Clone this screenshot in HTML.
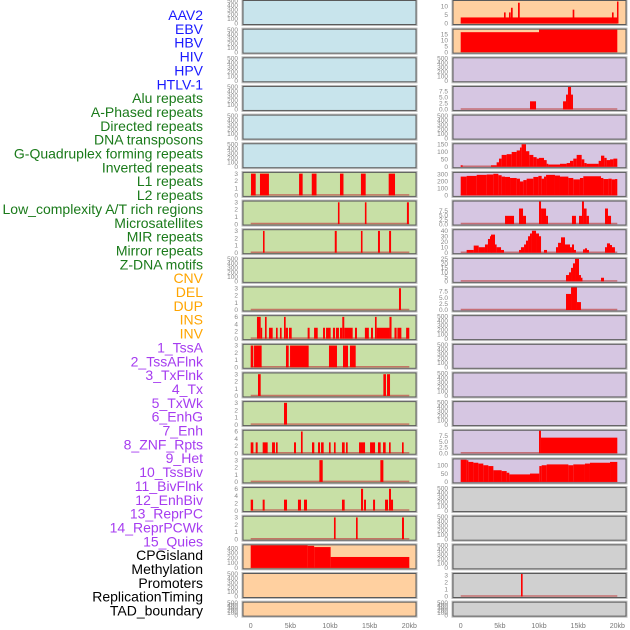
<!DOCTYPE html>
<html><head><meta charset="utf-8"><style>
html,body{margin:0;padding:0;background:#fff;}
svg{display:block;font-family:"Liberation Sans",sans-serif;}
</style></head><body>
<svg id="chart" width="630" height="630" viewBox="0 0 630 630" xmlns="http://www.w3.org/2000/svg"></svg>
<script>
const trackLabels=["AAV2","EBV","HBV","HIV","HPV","HTLV-1","Alu repeats","A-Phased repeats","Directed repeats","DNA transposons","G-Quadruplex forming repeats","Inverted repeats","L1 repeats","L2 repeats","Low_complexity A/T rich regions","Microsatellites","MIR repeats","Mirror repeats","Z-DNA motifs","CNV","DEL","DUP","INS","INV","1_TssA","2_TssAFlnk","3_TxFlnk","4_Tx","5_TxWk","6_EnhG","7_Enh","8_ZNF_Rpts","9_Het","10_TssBiv","11_BivFlnk","12_EnhBiv","13_ReprPC","14_ReprPCWk","15_Quies","CPGisland","Methylation","Promoters","ReplicationTiming","TAD_boundary"];
const labelGroups=[6,13,5,15,5];
const groupColors=["#1a1aff","#1a7a1a","#ffa500","#a63cf0","#000000"];
const xTickKb=[0,5,10,15,20];
const xTickText=["0","5kb","10kb","15kb","20kb"];
const emptyTicks=[0,100,200,300,400,500];
const t3=[0,1,2,3], t6=[0,2,4,6], t75=[0,2.5,5,7.5];
// left column data: [startKb,endKb,value]
const L6=[[0.04,0.63,3],[1.17,2.3,3],[6.1,6.55,3],[7.7,8.3,3],[11.26,11.7,3],[13.9,14.5,3],[17.4,18.2,3]];
const L7=[[11.0,11.2,3],[14.4,14.6,3],[19.7,19.95,3]];
const L8=[[1.55,1.75,3],[10.6,10.85,3],[13.9,14.1,3],[16.05,16.3,3],[17.45,17.7,3]];
const L10=[[18.7,18.95,3]];
const L11=[[0.79,1.26,6],[1.26,1.38,3],[1.8,2.01,6],[2.31,2.77,3],[3.19,3.4,3],[3.69,3.9,3],[4.2,4.41,6],[4.41,4.7,3],[4.83,5.17,3],[7.18,7.43,3],[7.99,8.45,3],[9.12,9.37,3],[9.5,10.08,3],[10.37,10.63,3],[10.75,11.13,3],[11.26,11.55,3],[11.55,11.8,6],[11.8,12.86,3],[13.15,13.4,3],[14.4,14.9,3],[15.17,15.42,3],[15.67,15.88,6],[15.88,17.5,3],[17.5,17.76,6],[18.13,18.4,3],[18.5,19.0,3],[19.6,20.0,3]];
const L12=[[0,0.33,3],[0.42,1.38,3],[4.45,4.79,3],[4.96,7.31,3],[9.87,10.88,3],[11.64,12.27,3],[12.52,13.24,3]];
const L13=[[0.92,1.26,3],[16.73,17.06,3],[17.19,17.57,3]];
const L14=[[4.2,4.58,3]];
const L15=[[0,0.34,3],[0.63,0.88,3],[1.51,2.14,3],[2.69,3.06,3],[3.19,3.4,3],[5.46,5.71,3],[6.34,6.55,6],[7.73,8.02,3],[8.49,8.74,3],[8.87,9.2,3],[9.87,10.08,3],[10.5,10.71,3],[11.51,11.85,3],[12.02,12.23,3],[13.66,14.42,3],[15.05,15.68,3],[16.05,16.39,3],[16.69,17.02,3],[17.44,17.65,3],[19.08,19.29,3]];
const L16=[[8.66,9.08,3],[16.35,16.73,3]];
const L17=[[0,0.3,3],[1.51,1.76,3],[4.2,4.58,3],[5.96,6.34,3],[6.72,7.1,3],[11.51,11.85,3],[13.91,14.17,6],[14.29,14.54,3],[15.43,15.68,3],[16.94,17.32,3],[17.44,17.69,6],[17.69,17.95,3]];
const L18=[[10.5,10.71,3],[13.28,13.49,3],[19.08,19.33,3]];
const L19=[[0,7.18,470],[7.18,8.0,445],[8.0,10.08,420],[10.08,20,220]];
// right column data
const R0=[[0,20,3.5],[5.53,5.74,6.4],[6.17,6.38,6.4],[6.42,6.64,9.1],[7.32,7.54,12],[14.3,14.51,8],[19.32,19.53,6.4],[19.96,20,12.7]];
const R1=[[0,10,16.6],[10,20,19]];
const R3=[[8.85,9.62,3.4],[13.07,13.45,3.4],[13.45,13.7,6.2],[13.7,14.09,9.4],[14.09,14.34,6.2]];
const R5=[[0,0.25,10],[3.87,4.59,10],[4.59,4.89,30],[4.89,5.23,55],[5.23,5.87,80],[5.87,6.51,85],[6.51,7.15,100],[7.15,7.57,110],[7.57,7.78,130],[7.78,8.34,152],[8.34,8.76,105],[8.76,9.28,80],[9.28,9.7,65],[9.7,10.0,55],[10.0,10.64,60],[10.64,10.98,45],[10.98,11.19,20],[11.19,12.68,15],[12.68,13.53,20],[13.53,13.96,25],[13.96,14.38,40],[14.38,14.81,55],[14.81,15.45,80],[15.45,15.79,50],[15.79,16.08,25],[16.08,17.62,20],[17.62,17.92,40],[17.92,18.34,75],[18.34,18.64,60],[18.64,19.07,45],[19.07,19.5,50],[19.5,20,55]];
const R6=[[0,0.76,270],[0.76,2.04,280],[2.04,3.32,295],[3.32,4.17,300],[4.17,4.81,310],[4.81,5.23,290],[5.23,5.66,270],[5.66,6.3,265],[6.3,7.15,250],[7.15,7.57,240],[7.57,8.0,200],[8.0,8.42,220],[8.42,9.28,240],[9.28,9.92,265],[9.92,10.34,280],[10.34,10.64,240],[10.64,10.9,270],[10.9,12.04,295],[12.04,12.68,285],[12.68,13.75,270],[13.75,14.38,250],[14.38,15.23,230],[15.23,15.66,250],[15.66,17.92,275],[17.92,18.22,250],[18.22,18.86,235],[18.86,19.28,240],[19.28,19.71,230],[19.71,20,235]];
const R7=[[5.66,6.81,4.6],[7.45,7.96,8.7],[7.96,8.34,4.6],[10.0,10.26,12.7],[10.26,10.9,8.7],[10.9,11.15,4.6],[14.21,14.72,4.6],[15.11,15.49,4.6],[15.49,15.74,12.7],[15.74,16.08,8.7],[16.08,16.38,4.6],[18.43,18.81,8.7],[18.81,19.2,4.6]];
const R8=[[0.76,1.66,5],[1.66,2.3,13],[2.3,3.1,10],[3.1,3.48,15],[3.48,3.74,25],[3.74,3.87,30],[3.87,4.38,33],[4.38,4.59,15],[4.59,5.15,10],[5.15,5.53,5],[7.45,7.7,5],[7.7,8.09,10],[8.09,8.34,15],[8.34,8.6,22],[8.6,8.85,30],[8.85,9.1,35],[9.1,9.62,40],[9.62,10.0,35],[10.0,10.26,30],[10.64,11.02,5],[12.17,12.43,10],[12.43,12.81,18],[12.81,13.32,28],[13.32,13.96,15],[13.96,14.21,10],[14.21,14.47,15],[14.47,14.72,5],[15.62,15.87,6],[15.87,16.13,8],[16.13,16.38,5],[18.43,18.68,10],[18.68,19.07,17],[19.07,19.32,14],[19.32,19.7,10]];
const R9=[[13.45,13.83,7],[13.83,14.09,10],[14.09,14.34,15],[14.34,14.6,20],[14.6,15.11,25],[15.11,15.36,7],[15.36,15.49,4],[17.92,18.3,4]];
const R10=[[13.45,14.09,6.5],[14.09,14.85,9.1],[14.85,15.36,3.2]];
const R15=[[10.0,10.25,9.8],[10.25,20,6.8]];
const R16=[[0,0.76,133],[0.76,0.98,130],[0.98,1.62,120],[1.62,2.25,115],[2.25,2.89,110],[2.89,3.53,100],[3.53,4.17,95],[4.17,5.23,70],[5.23,5.87,65],[5.87,6.21,55],[6.21,8.85,45],[8.85,10.04,50],[10.04,10.34,95],[10.34,10.98,100],[10.98,13.75,105],[13.75,14.38,100],[14.38,15.87,105],[15.87,16.51,110],[16.51,19.07,115],[19.07,20,120]];
const R20=[[7.7,7.91,3.3]];

const BLUE="#c8e4ec",GREEN="#c8e0a6",ORANGE="#ffd0a0",PURPLE="#d6c6e2",GRAY="#d0d0d0";
const leftPanels=[];
for(let i=0;i<6;i++)leftPanels.push({bg:BLUE,data:null,ticks:emptyTicks,ymax:500});
leftPanels.push({bg:GREEN,data:L6,ticks:t3,ymax:3.1});
leftPanels.push({bg:GREEN,data:L7,ticks:t3,ymax:3.1});
leftPanels.push({bg:GREEN,data:L8,ticks:t3,ymax:3.1});
leftPanels.push({bg:GREEN,data:null,ticks:emptyTicks,ymax:500});
leftPanels.push({bg:GREEN,data:L10,ticks:t3,ymax:3.1});
leftPanels.push({bg:GREEN,data:L11,ticks:t6,ymax:6.2});
leftPanels.push({bg:GREEN,data:L12,ticks:t3,ymax:3.1});
leftPanels.push({bg:GREEN,data:L13,ticks:t3,ymax:3.1});
leftPanels.push({bg:GREEN,data:L14,ticks:t3,ymax:3.1});
leftPanels.push({bg:GREEN,data:L15,ticks:t6,ymax:6.2});
leftPanels.push({bg:GREEN,data:L16,ticks:t3,ymax:3.1});
leftPanels.push({bg:GREEN,data:L17,ticks:t6,ymax:6.2});
leftPanels.push({bg:GREEN,data:L18,ticks:t3,ymax:3.1});
leftPanels.push({bg:ORANGE,data:L19,ticks:[0,100,200,300,400],ymax:455});
leftPanels.push({bg:ORANGE,data:null,ticks:emptyTicks,ymax:500});
leftPanels.push({bg:ORANGE,data:null,ticks:emptyTicks,ymax:500});
const rightPanels=[
 {bg:ORANGE,data:R0,ticks:[0,5,10],ymax:13},
 {bg:ORANGE,data:R1,ticks:[0,5,10,15],ymax:18.7},
 {bg:PURPLE,data:null,ticks:emptyTicks,ymax:500},
 {bg:PURPLE,data:R3,ticks:t75,ymax:9.4},
 {bg:PURPLE,data:null,ticks:emptyTicks,ymax:500},
 {bg:PURPLE,data:R5,ticks:[0,50,100,150],ymax:152},
 {bg:PURPLE,data:R6,ticks:[0,100,200,300],ymax:323},
 {bg:PURPLE,data:R7,ticks:t75,ymax:12.6},
 {bg:PURPLE,data:R8,ticks:[0,10,20,30,40],ymax:41},
 {bg:PURPLE,data:R9,ticks:[0,5,10,15,20,25],ymax:25},
 {bg:PURPLE,data:R10,ticks:t75,ymax:9.1}];
for(let i=11;i<15;i++)rightPanels.push({bg:PURPLE,data:null,ticks:emptyTicks,ymax:500});
rightPanels.push({bg:PURPLE,data:R15,ticks:t75,ymax:9.8});
rightPanels.push({bg:PURPLE,data:R16,ticks:[0,50,100],ymax:135});
for(let i=17;i<20;i++)rightPanels.push({bg:GRAY,data:null,ticks:emptyTicks,ymax:500});
rightPanels.push({bg:GRAY,data:R20,ticks:t3,ymax:3.2});
rightPanels.push({bg:GRAY,data:null,ticks:emptyTicks,ymax:500});

const NS="http://www.w3.org/2000/svg";
const svg=document.getElementById('chart');
function mk(tag,attrs,parent){const e=document.createElementNS(NS,tag);for(const k in attrs)e.setAttribute(k,attrs[k]);(parent||svg).appendChild(e);return e;}

// labels
let li=0;
const lg=mk('g',{});


labelGroups.forEach((n,g)=>{for(let j=0;j<n;j++){const t=mk('text',{x:203,y:15+li*13.85+5,'text-anchor':'end','font-size':'14',fill:groupColors[g]},lg);t.textContent=trackLabels[li];


li++;}});

const cols=[{x0:243,x1:416,kb0:250.7,kbw:7.93,tx:238,panels:leftPanels,name:'left'},{x0:453,x1:626,kb0:460.7,kbw:7.83,tx:448,panels:rightPanels,name:'right'}];
cols.forEach(c=>{
 const xs=kb=>c.kb0+kb*c.kbw;
 c.panels.forEach((p,i)=>{
  const top=i*28.65, h=(i===21)?15:25;
  const g=mk('g',{});
  
  
  mk('rect',{x:c.x0-1,y:top-0.5,width:c.x1-c.x0+2,height:h+1,fill:'none',stroke:'#bbb','stroke-width':1},g);
  mk('rect',{x:c.x0,y:top+0.5,width:c.x1-c.x0,height:h-1,fill:p.bg,stroke:'#5a5a5a','stroke-width':1},g);
  const bot=top+h-1.5, ih=h-2.5;
  const ys=v=>bot-Math.min(v,p.ymax)/p.ymax*ih;
  p.ticks.forEach(tv=>{const t=mk('text',{x:c.tx,y:ys(tv)+2.2,'text-anchor':'end','font-size':'6.5',fill:'#888'},g);t.textContent=String(tv%1?tv.toFixed(1):(p.ticks===t75?tv.toFixed(1):tv));
   
   });
  if(p.data){
   mk('line',{x1:xs(0),x2:xs(20),y1:bot-0.5,y2:bot-0.5,stroke:'#c04848','stroke-width':1.5,'stroke-opacity':0.7},g);
   p.data.forEach(d=>{const r=mk('rect',{x:xs(d[0]),y:ys(d[2]),width:Math.max(xs(d[1])-xs(d[0]),1.5),height:bot-ys(d[2]),fill:'#ff0000'},g);
    
    });
  }
 });
 xTickKb.forEach((k,j)=>{const t=mk('text',{x:xs(k),y:628,'text-anchor':'middle','font-size':'7',fill:'#777'});t.textContent=xTickText[j];
  
  });
});
</script>
</body></html>
